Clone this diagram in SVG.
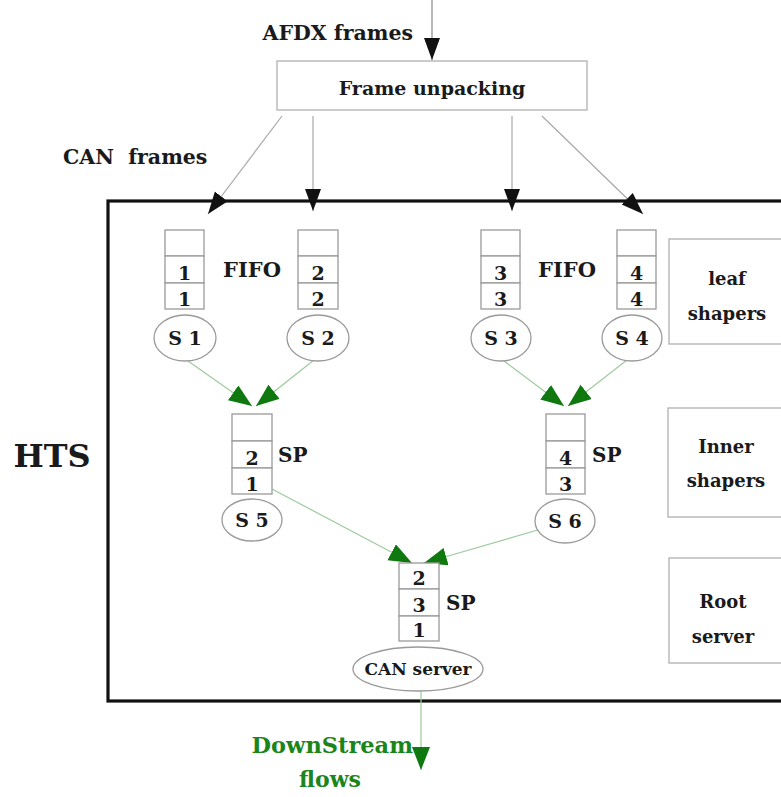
<svg xmlns="http://www.w3.org/2000/svg" width="781" height="797" viewBox="0 0 781 797">
<defs>
<style>
text{font-family:"DejaVu Serif","Liberation Serif",serif;font-weight:bold;fill:#1a1a1a;}
.c{text-anchor:middle;}
.cell{fill:#fff;stroke:#9a9a9a;stroke-width:1.3;}
.ell{fill:#fff;stroke:#9a9a9a;stroke-width:1.3;}
.lbl{fill:#fff;stroke:#b0b0b0;stroke-width:1.3;}
.d{font-size:19px;}
.gl{stroke:#9ccc9c;stroke-width:1.2;fill:none;}
.bl{stroke:#a8a8a8;stroke-width:1.2;fill:none;}
.g{fill:#1a861a;}
</style>
<marker id="ab" markerUnits="userSpaceOnUse" markerWidth="24" markerHeight="18" refX="22" refY="8" orient="auto">
<path d="M0,0 L22,8 L0,16 z" fill="#111"/>
</marker>
<marker id="ag" markerUnits="userSpaceOnUse" markerWidth="26" markerHeight="20" refX="23" refY="9" orient="auto">
<path d="M0,0 L23,9 L0,18 z" fill="#0f780f"/>
</marker>
</defs>
<rect width="781" height="797" fill="#fff"/>

<g id="hts-box">
<rect x="108" y="201" width="690" height="500" fill="none" stroke="#111" stroke-width="3.2"/>
<text x="52" y="467" class="c" style="font-size:32px">HTS</text>
</g>

<g id="connectors">
<line class="bl" x1="432" y1="0" x2="432" y2="60" marker-end="url(#ab)" style="stroke:#888"/>
<line class="bl" x1="282" y1="116" x2="208" y2="214" marker-end="url(#ab)"/>
<line class="bl" x1="313" y1="116" x2="313" y2="211" marker-end="url(#ab)"/>
<line class="bl" x1="512" y1="116" x2="512" y2="211" marker-end="url(#ab)"/>
<line class="bl" x1="542" y1="116" x2="643" y2="214" marker-end="url(#ab)"/>
<line class="gl" x1="188" y1="361" x2="252" y2="406" marker-end="url(#ag)"/>
<line class="gl" x1="314" y1="360" x2="256" y2="406" marker-end="url(#ag)"/>
<line class="gl" x1="504" y1="361" x2="564" y2="406" marker-end="url(#ag)"/>
<line class="gl" x1="627" y1="360" x2="568" y2="406" marker-end="url(#ag)"/>
<line class="gl" x1="272" y1="489" x2="412" y2="563" marker-end="url(#ag)"/>
<line class="gl" x1="548" y1="527" x2="424" y2="563" marker-end="url(#ag)"/>
<line class="gl" x1="421" y1="691" x2="421" y2="770" marker-end="url(#ag)"/>
</g>

<g id="frame-unpacking">
<rect x="277" y="61" width="310" height="49" class="lbl"/>
<text x="432" y="95" class="c" style="font-size:19px">Frame unpacking</text>
</g>
<text x="413" y="40" style="font-size:20.5px;text-anchor:end">AFDX frames</text>
<text x="63" y="164" style="font-size:20.5px;white-space:pre">CAN  frames</text>

<g id="q1">
<rect x="165" y="230" width="39" height="26" class="cell"/>
<rect x="165" y="256" width="39" height="27" class="cell"/>
<rect x="165" y="283" width="39" height="26" class="cell"/>
<text x="184.5" y="280" class="c d">1</text>
<text x="184.5" y="306" class="c d">1</text>
</g>
<g id="q2">
<rect x="298" y="230" width="40" height="26" class="cell"/>
<rect x="298" y="256" width="40" height="27" class="cell"/>
<rect x="298" y="283" width="40" height="26" class="cell"/>
<text x="318" y="280" class="c d">2</text>
<text x="318" y="306" class="c d">2</text>
</g>
<g id="q3">
<rect x="481" y="230" width="39" height="26" class="cell"/>
<rect x="481" y="256" width="39" height="27" class="cell"/>
<rect x="481" y="283" width="39" height="26" class="cell"/>
<text x="500.5" y="280" class="c d">3</text>
<text x="500.5" y="306" class="c d">3</text>
</g>
<g id="q4">
<rect x="617" y="230" width="39" height="26" class="cell"/>
<rect x="617" y="256" width="39" height="27" class="cell"/>
<rect x="617" y="283" width="39" height="26" class="cell"/>
<text x="636.5" y="280" class="c d">4</text>
<text x="636.5" y="306" class="c d">4</text>
</g>
<text x="252" y="277" class="c" style="font-size:21px">FIFO</text>
<text x="567" y="277" class="c" style="font-size:21px">FIFO</text>

<g id="s1"><ellipse cx="185" cy="338" rx="31" ry="23" class="ell"/><text x="185" y="345" class="c d">S 1</text></g>
<g id="s2"><ellipse cx="318" cy="338" rx="31" ry="23" class="ell"/><text x="318" y="345" class="c d">S 2</text></g>
<g id="s3"><ellipse cx="501" cy="338" rx="30" ry="23" class="ell"/><text x="501" y="345" class="c d">S 3</text></g>
<g id="s4"><ellipse cx="632" cy="338" rx="30" ry="23" class="ell"/><text x="632" y="345" class="c d">S 4</text></g>

<g id="q5">
<rect x="232" y="414" width="40" height="27" class="cell"/>
<rect x="232" y="441" width="40" height="27" class="cell"/>
<rect x="232" y="468" width="40" height="26" class="cell"/>
<text x="252" y="465" class="c d">2</text>
<text x="252" y="491" class="c d">1</text>
<text x="278" y="462" style="font-size:20px">SP</text>
</g>
<g id="q6">
<rect x="546" y="414" width="39" height="27" class="cell"/>
<rect x="546" y="441" width="39" height="27" class="cell"/>
<rect x="546" y="468" width="39" height="26" class="cell"/>
<text x="565.5" y="465" class="c d">4</text>
<text x="565.5" y="491" class="c d">3</text>
<text x="592" y="462" style="font-size:20px">SP</text>
</g>
<g id="s5"><ellipse cx="252" cy="520" rx="30" ry="21" class="ell"/><text x="252" y="527" class="c d">S 5</text></g>
<g id="s6"><ellipse cx="565" cy="521" rx="30" ry="22" class="ell"/><text x="565" y="528" class="c d">S 6</text></g>

<g id="q7">
<rect x="399" y="563" width="40" height="26" class="cell"/>
<rect x="399" y="589" width="40" height="27" class="cell"/>
<rect x="399" y="616" width="40" height="25" class="cell"/>
<text x="419" y="585" class="c d">2</text>
<text x="419" y="612" class="c d">3</text>
<text x="419" y="637" class="c d">1</text>
<text x="446" y="610" style="font-size:20px">SP</text>
</g>
<g id="can-server"><ellipse cx="418" cy="669" rx="65" ry="22" class="ell"/><text x="418" y="675" class="c" style="font-size:17px">CAN server</text></g>

<g id="leaf-shapers">
<rect x="669" y="239" width="120" height="105" class="lbl"/>
<text x="727" y="285" class="c" style="font-size:18px">leaf</text>
<text x="727" y="320" class="c" style="font-size:18px">shapers</text>
</g>
<g id="inner-shapers">
<rect x="668" y="408" width="120" height="109" class="lbl"/>
<text x="726" y="453" class="c" style="font-size:18px">Inner</text>
<text x="726" y="487" class="c" style="font-size:18px">shapers</text>
</g>
<g id="root-server">
<rect x="669" y="558" width="120" height="105" class="lbl"/>
<text x="723" y="608" class="c" style="font-size:18px">Root</text>
<text x="723" y="643" class="c" style="font-size:18px">server</text>
</g>

<g id="downstream">
<text x="413" y="753" class="g" style="font-size:22.5px;text-anchor:end">DownStream</text>
<text x="330" y="787" class="c g" style="font-size:22px">flows</text>
</g>
</svg>
